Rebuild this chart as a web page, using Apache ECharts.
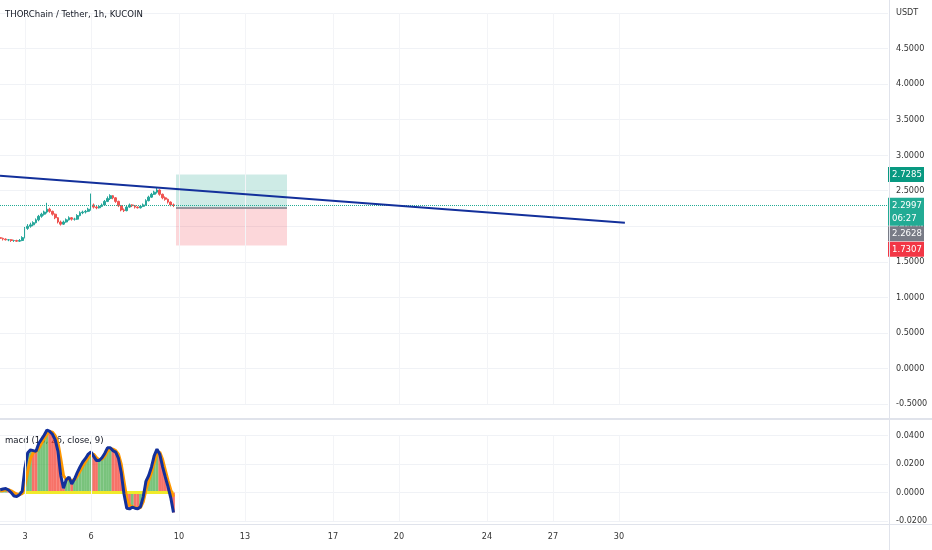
<!DOCTYPE html>
<html><head><meta charset="utf-8">
<script src="https://cdn.jsdelivr.net/npm/echarts@6/dist/echarts.min.js"></script>
<style>html,body{margin:0;padding:0;background:#fff}#c{width:932px;height:550px}</style>
</head><body><div id="c"></div><script>
// ---- data (3h candles, x = day of month) ----
const startDay = 1.875;
const stepDays = 0.125;
const opens  = [1.84,1.83,1.82,1.81,1.81,1.80,1.80,1.79,1.80,1.84,1.97,2.00,2.02,2.05,2.09,2.14,2.17,2.20,2.24,2.21,2.17,2.12,2.06,2.03,2.06,2.09,2.12,2.10,2.10,2.15,2.19,2.20,2.21,2.24,2.30,2.27,2.26,2.28,2.30,2.35,2.39,2.43,2.40,2.35,2.29,2.23,2.22,2.27,2.30,2.29,2.27,2.26,2.28,2.30,2.36,2.41,2.45,2.48,2.51,2.45,2.40,2.38,2.34,2.30];
const closes = [1.83,1.82,1.81,1.81,1.80,1.80,1.79,1.80,1.84,1.97,2.00,2.02,2.05,2.09,2.14,2.17,2.20,2.24,2.21,2.17,2.12,2.06,2.03,2.06,2.09,2.12,2.10,2.10,2.15,2.19,2.20,2.21,2.24,2.30,2.27,2.26,2.28,2.30,2.35,2.39,2.43,2.40,2.35,2.29,2.23,2.22,2.27,2.30,2.29,2.27,2.26,2.28,2.30,2.36,2.41,2.45,2.48,2.51,2.45,2.40,2.38,2.34,2.30,2.2997];
const lows   = [1.81,1.80,1.80,1.79,1.78,1.78,1.78,1.78,1.79,1.83,1.95,1.98,2.00,2.04,2.07,2.12,2.15,2.18,2.19,2.15,2.10,2.04,2.01,2.02,2.05,2.08,2.08,2.08,2.09,2.14,2.17,2.18,2.20,2.22,2.25,2.24,2.25,2.27,2.29,2.34,2.37,2.38,2.33,2.27,2.21,2.20,2.21,2.26,2.27,2.25,2.25,2.25,2.27,2.29,2.35,2.40,2.44,2.46,2.43,2.38,2.36,2.32,2.28,2.27];
const highs  = [1.85,1.84,1.83,1.82,1.82,1.81,1.81,1.82,1.86,1.99,2.03,2.05,2.07,2.11,2.16,2.19,2.22,2.33,2.26,2.22,2.18,2.13,2.08,2.08,2.11,2.14,2.13,2.12,2.17,2.21,2.22,2.23,2.26,2.46,2.32,2.29,2.30,2.32,2.37,2.42,2.45,2.44,2.41,2.36,2.30,2.25,2.29,2.32,2.31,2.30,2.28,2.30,2.32,2.38,2.43,2.47,2.50,2.55,2.52,2.46,2.42,2.39,2.35,2.32];
const macdLine   = [0.0019,0.0025,0.0028,0.0018,0.0000,-0.0024,-0.0027,-0.0015,0.0010,0.0175,0.0280,0.0300,0.0295,0.0290,0.0345,0.0375,0.0405,0.0440,0.0430,0.0410,0.0370,0.0290,0.0120,0.0030,0.0090,0.0110,0.0060,0.0095,0.0140,0.0180,0.0215,0.0240,0.0270,0.0285,0.0255,0.0225,0.0225,0.0245,0.0275,0.0315,0.0315,0.0295,0.0285,0.0240,0.0140,-0.0010,-0.0110,-0.0115,-0.0103,-0.0110,-0.0115,-0.0100,-0.0030,0.0080,0.0120,0.0180,0.0260,0.0305,0.0270,0.0185,0.0110,0.0042,-0.0035,-0.0140];
const signalLine = [0.0010,0.0015,0.0020,0.0020,0.0012,0.0000,-0.0012,-0.0015,-0.0008,0.0050,0.0150,0.0240,0.0280,0.0290,0.0310,0.0345,0.0380,0.0410,0.0430,0.0425,0.0400,0.0350,0.0240,0.0120,0.0090,0.0095,0.0085,0.0090,0.0115,0.0150,0.0185,0.0215,0.0245,0.0270,0.0270,0.0245,0.0230,0.0235,0.0255,0.0290,0.0310,0.0305,0.0295,0.0270,0.0200,0.0080,-0.0040,-0.0090,-0.0100,-0.0105,-0.0110,-0.0105,-0.0065,0.0020,0.0085,0.0140,0.0210,0.0270,0.0285,0.0235,0.0160,0.0085,0.0020,-0.0030];
const dayTicks = [3, 6, 10, 13, 17, 20, 24, 27, 30];
const trendDays = [1.864, 30.27];
const trendPrices = [2.711, 2.051];
const posStartDay = 9.864, posEndDay = 14.91;
const targetPrice = 2.7285, entryPrice = 2.2628, stopPrice = 1.7307, lastPrice = 2.2997;
const countdown = '06:27';
const zeroLineFromIndex = 7;
const xMin = 1.864, xMax = 42.23;
const titleText = 'THORChain / Tether, 1h, KUCOIN';
const macdTitle = 'macd (16, 26, close, 9)';

// ---- build ----
const FONT = '"Liberation Sans Narrow","DejaVu Sans Condensed","Liberation Sans",sans-serif';
const times = opens.map((_, i) => startDay + i * stepDays);
const candleData = times.map((t, i) => [t, opens[i], closes[i], lows[i], highs[i]]);
const macdData = times.map((t, i) => [t, macdLine[i]]);
const sigData = times.map((t, i) => [t, signalLine[i]]);
const histData = times.map((t, i) => ({
  value: [t, macdLine[i]],
  itemStyle: { color: (i > 0 && macdLine[i] < macdLine[i - 1]) ? 'rgba(244,67,54,0.75)' : 'rgba(76,175,80,0.75)' }
}));
const zeroData = [[times[zeroLineFromIndex], 0], [times[times.length - 1], 0]];

function tag(price, lines, bg, shift) {
  const body = lines.map(s => '{b|' + s + '}').join('\n');
  return {
    yAxis: price,
    lineStyle: { color: 'rgba(0,0,0,0)', width: 0 },
    label: {
      show: true, position: 'end', distance: 0, opacity: 1,
      formatter: (shift > 0 ? '{g| }\n' : '') + body,
      rich: {
        g: { height: shift * 2, lineHeight: shift * 2, fontSize: 1 },
        b: { backgroundColor: bg, color: '#fff', fontSize: 9.5, fontFamily: FONT, width: 29, align: 'left',
             padding: [1, 3, 1, 4], lineHeight: 13, height: 13 }
      }
    }
  };
}

const vGrid = dayTicks.map(d => ({ xAxis: d }));
const AX = { fontSize: 9, color: '#333', fontFamily: FONT };

const option = {
  animation: false,
  backgroundColor: '#ffffff',
  textStyle: { fontFamily: FONT },
  title: [
    { text: titleText, left: 5, top: 10, padding: 0, z: 10, textStyle: { fontSize: 9.5, color: '#131722', fontWeight: 'normal', fontFamily: FONT } },
    { text: macdTitle, left: 5, top: 436, padding: 0, z: 0, textStyle: { fontSize: 9.5, color: '#131722', fontWeight: 'normal', fontFamily: FONT } }
  ],
  grid: [
    { left: 0, right: 44, top: 13, bottom: 146 },
    { left: 0, right: 44, top: 435.7, bottom: 29 }
  ],
  xAxis: [
    { gridIndex: 0, type: 'value', min: xMin, max: xMax, axisLine: { show: false }, axisTick: { show: false }, axisLabel: { show: false }, splitLine: { show: false } },
    { gridIndex: 1, type: 'value', min: xMin, max: xMax, axisLine: { show: false }, axisTick: { show: false },
      axisLabel: Object.assign({ customValues: dayTicks, margin: 11, formatter: v => String(v) }, AX),
      splitLine: { show: false } }
  ],
  yAxis: [
    { gridIndex: 0, type: 'value', position: 'right', min: -0.5, max: 5, interval: 0.5,
      axisLine: { show: false }, axisTick: { show: false },
      axisLabel: Object.assign({ margin: 8, formatter: v => Math.abs(v - 5) < 1e-9 ? 'USDT' : v.toFixed(4) }, AX),
      splitLine: { lineStyle: { color: '#f0f2f6' } } },
    { gridIndex: 1, type: 'value', position: 'right', min: -0.02, max: 0.04, interval: 0.02,
      axisLine: { show: false }, axisTick: { show: false },
      axisLabel: Object.assign({ margin: 8, formatter: v => v.toFixed(4) }, AX),
      splitLine: { lineStyle: { color: '#f0f2f6' } } }
  ],
  series: [
    {
      type: 'candlestick', xAxisIndex: 0, yAxisIndex: 0, data: candleData,
      encode: { x: 0, y: [1, 2, 3, 4] }, barWidth: 2.2,
      itemStyle: { color: '#26a69a', color0: '#ef5350', borderColor: '#26a69a', borderColor0: '#ef5350', borderWidth: 1 },
      markLine: {
        silent: true, symbol: 'none', animation: false,
        label: { show: false },
        lineStyle: { color: '#f3f4f7', type: 'solid', width: 1 },
        data: vGrid.concat([
          { yAxis: lastPrice, lineStyle: { type: 'dotted', color: '#22ab94', width: 1 }, label: { show: false } }
        ])
      }
    },
    {
      type: 'line', xAxisIndex: 0, yAxisIndex: 0, z: 5,
      data: trendDays.map((d, i) => [d, trendPrices[i]]),
      symbol: 'none', lineStyle: { color: '#13309b', width: 2 },
      markArea: {
        silent: true,
        data: [
          [{ coord: [posStartDay, targetPrice], itemStyle: { color: 'rgba(8,153,129,0.2)' } }, { coord: [posEndDay, entryPrice] }],
          [{ coord: [posStartDay, entryPrice], itemStyle: { color: 'rgba(242,54,69,0.2)' } }, { coord: [posEndDay, stopPrice] }]
        ]
      },
      markLine: {
        silent: true, symbol: 'none', animation: false,
        data: [
          [{ coord: [posStartDay, entryPrice], lineStyle: { color: '#787b86', width: 1.5, type: 'solid' }, label: { show: false } }, { coord: [posEndDay, entryPrice] }]
        ]
      }
    },
    {
      type: 'line', xAxisIndex: 0, yAxisIndex: 0, z: 20, data: [], symbol: 'none',
      markLine: {
        silent: true, symbol: 'none', animation: false,
        data: [
          tag(targetPrice, [targetPrice.toFixed(4)], '#089981', 0),
          tag(lastPrice, [lastPrice.toFixed(4), countdown], '#22ab94', 6.7),
          tag(entryPrice, [entryPrice.toFixed(4)], '#787b86', 26),
          tag(stopPrice, [stopPrice.toFixed(4)], '#f23645', 3.7)
        ]
      }
    },
    {
      type: 'bar', xAxisIndex: 1, yAxisIndex: 1, data: histData, barWidth: 2.75, clip: false,
      markLine: {
        silent: true, symbol: 'none', label: { show: false },
        lineStyle: { color: '#f3f4f7', type: 'solid', width: 1 },
        data: vGrid
      }
    },
    { type: 'line', xAxisIndex: 1, yAxisIndex: 1, data: zeroData, symbol: 'none', clip: false,
      lineStyle: { color: '#f0ea2a', width: 3 } },
    { type: 'line', xAxisIndex: 1, yAxisIndex: 1, data: sigData, symbol: 'none', clip: false,
      lineStyle: { color: '#ff9800', width: 3 } },
    { type: 'line', xAxisIndex: 1, yAxisIndex: 1, data: macdData, symbol: 'none', clip: false,
      lineStyle: { color: '#13309b', width: 3 } }
  ],
  graphic: [
    { type: 'line', silent: true, z: 100, shape: { x1: 0, y1: 419, x2: 932, y2: 419 }, style: { stroke: '#e0e3eb', lineWidth: 2 } },
    { type: 'line', silent: true, z: 100, shape: { x1: 0, y1: 524.5, x2: 932, y2: 524.5 }, style: { stroke: '#e0e3eb', lineWidth: 1 } },
    { type: 'line', silent: true, z: 100, shape: { x1: 889.5, y1: 0, x2: 889.5, y2: 550 }, style: { stroke: '#e0e3eb', lineWidth: 1 } }
  ]
};

const chart = echarts.init(document.getElementById('c'), null, { renderer: 'canvas' });
chart.setOption(option);
</script></body></html>
